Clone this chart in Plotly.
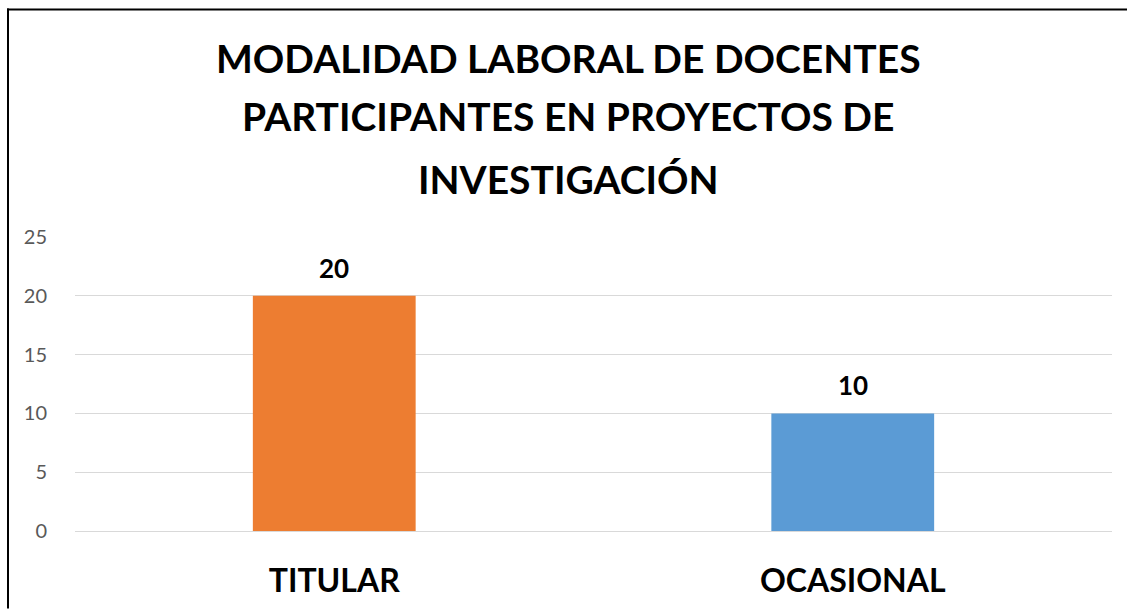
import plotly.graph_objects as go

# chart data
categories = ["TITULAR", "OCASIONAL"]
values = [20, 10]
bar_colors = ["#ED7D31", "#5B9BD5"]
title_lines = [
    "MODALIDAD LABORAL DE DOCENTES",
    "PARTICIPANTES EN PROYECTOS DE",
    "INVESTIGACIÓN",
]
y_ticks = [0, 5, 10, 15, 20, 25]

FONT = "Lato"
W, H = 1133, 611
M_L, M_R, M_T, M_B = 75, 21, 237, 78
plot_w = W - M_L - M_R
plot_h = H - M_T - M_B


def px_to_paper(x, y):
    return (x - M_L) / plot_w, (H - M_B - y) / plot_h


fig = go.Figure(
    go.Bar(
        x=categories,
        y=values,
        marker=dict(color=bar_colors, line=dict(width=0)),
        hovertemplate="<b>%{x}</b><br>%{y}<extra></extra>",
    )
)

# data labels above the bars
for cat, val in zip(categories, values):
    fig.add_annotation(
        x=cat, y=val, text=f"<b>{val}</b>", showarrow=False,
        yanchor="bottom", yshift=10,
        font=dict(family=FONT, size=26, color="#000000"),
    )

# title, one annotation per line
title_y = [57, 115, 179]
for line, ypx in zip(title_lines, title_y):
    _, yp = px_to_paper(0, ypx)
    fig.add_annotation(
        xref="paper", yref="paper", x=(568 - M_L) / plot_w, y=yp,
        text=f"<b>{line}</b>", showarrow=False,
        xanchor="center", yanchor="middle",
        font=dict(family=FONT, size=39, color="#000000"),
    )

# chart border (top and left edges), drawn as thin filled strips
for (ax, ay), (bx, by) in [((7, 7), (W - 6, 9)), ((7, 7), (9, H))]:
    xa, ya = px_to_paper(ax, ay)
    xb, yb = px_to_paper(bx, by)
    fig.add_shape(
        type="rect", xref="paper", yref="paper",
        x0=xa, y0=yb, x1=xb, y1=ya,
        fillcolor="#000000", line=dict(width=0), layer="above",
    )

fig.update_layout(
    width=W, height=H,
    margin=dict(l=M_L, r=M_R, t=M_T, b=M_B),
    paper_bgcolor="white", plot_bgcolor="white",
    bargap=0.686,
    showlegend=False,
    font=dict(family=FONT),
)
fig.update_xaxes(
    showgrid=False, showline=False, zeroline=False,
    ticks="outside", ticklen=22, tickcolor="rgba(0,0,0,0)",
    tickfont=dict(family=FONT, size=32, color="#000000"),
    tickvals=categories, ticktext=[f"<b>{c}</b>" for c in categories],
)
fig.update_yaxes(
    range=[0, 25], tickvals=y_ticks,
    showgrid=True, gridcolor="#D9D9D9", gridwidth=1,
    zeroline=True, zerolinecolor="#D9D9D9", zerolinewidth=1,
    showline=False,
    ticks="outside", ticklen=23, tickcolor="rgba(0,0,0,0)",
    tickfont=dict(family=FONT, size=20, color="#595959"),
)

fig.write_html(
    "out.html",
    config={"displayModeBar": False},
    post_script="document.body.style.margin='0';document.body.style.overflow='hidden';",
)
